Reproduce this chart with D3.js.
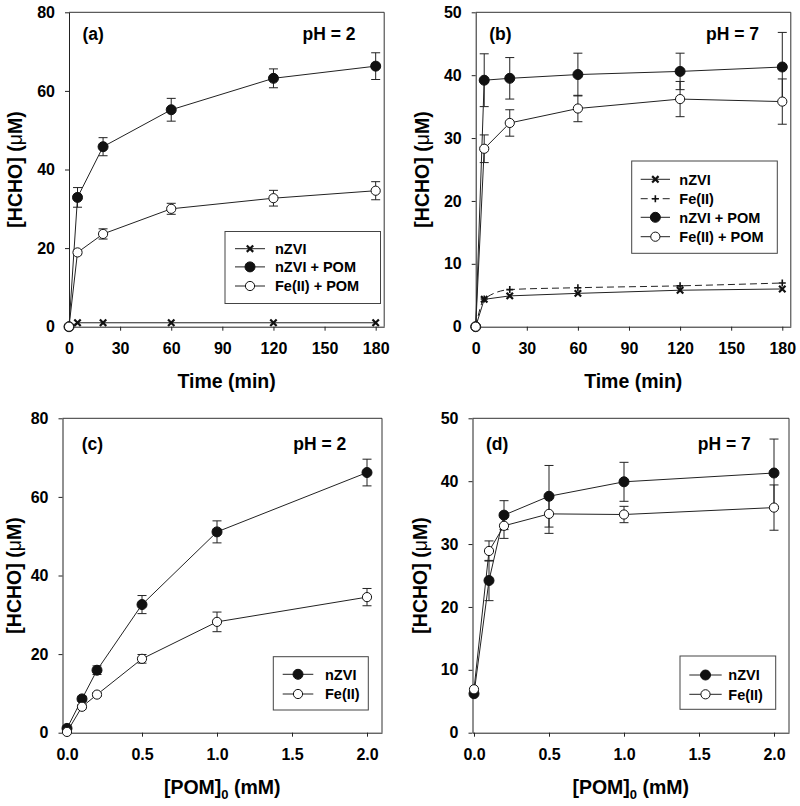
<!DOCTYPE html>
<html><head><meta charset="utf-8">
<script src="https://cdn.jsdelivr.net/npm/d3@7"></script>
<style>
body{margin:0;background:#fff;}
svg{display:block;font-family:"Liberation Sans",Arial,sans-serif;font-weight:bold;}
</style></head>
<body><svg id="c" width="800" height="806"></svg>
<script>
// ---------- data ----------
const timePts = [0, 5, 20, 60, 120, 180];
const pomPts = [0, 0.1, 0.2, 0.5, 1.0, 2.0];
const timeTicks = [0, 30, 60, 90, 120, 150, 180];
const pomTicks = [0, 0.5, 1.0, 1.5, 2.0];
const yTicks80 = [0, 20, 40, 60, 80];
const yTicks50 = [0, 10, 20, 30, 40, 50];

// (a) pH 2, time
const a_nZVI = [0, 1.0, 1.0, 1.0, 1.0, 1.0];
const a_nZVIPOM = [0, 32.9, 45.8, 55.2, 63.2, 66.3];
const a_nZVIPOM_err = [0, 2.5, 2.3, 2.9, 2.4, 3.4];
const a_FePOM = [0, 18.9, 23.6, 30.0, 32.7, 34.6];
const a_FePOM_err = [0, 0.6, 1.3, 1.4, 2.0, 2.3];

// (b) pH 7, time
const b_nZVI = [0, 4.35, 4.9, 5.3, 5.8, 6.0];
const b_Fe = [0, 4.4, 5.9, 6.2, 6.5, 6.95];
const b_nZVIPOM = [0, 39.2, 39.5, 40.1, 40.6, 41.3];
const b_nZVIPOM_err = [0, 4.2, 3.3, 3.4, 2.9, 5.5];
const b_FePOM = [0, 28.3, 32.4, 34.7, 36.2, 35.8];
const b_FePOM_err = [0, 2.2, 2.1, 2.1, 2.8, 3.6];

// (c) pH 2, POM dose
const c_nZVI = [1.1, 8.6, 15.9, 32.6, 51.1, 66.2];
const c_nZVI_err = [0, 0.5, 1.1, 2.3, 2.8, 3.4];
const c_Fe = [0.2, 6.6, 9.7, 18.8, 28.2, 34.5];
const c_Fe_err = [0, 0.5, 0.5, 1.1, 2.5, 2.2];

// (d) pH 7, POM dose
const d_nZVI = [6.2, 24.2, 34.6, 37.6, 39.9, 41.3];
const d_nZVI_err = [0, 3.2, 2.3, 4.9, 3.1, 5.4];
const d_Fe = [6.9, 28.9, 32.9, 34.8, 34.7, 35.8];
const d_Fe_err = [0, 1.6, 2.0, 3.1, 1.3, 3.6];

// ---------- drawing ----------
const svg = d3.select("#c");
const INK = "#111";

function zip(xs, ys, es){ return xs.map((x,i)=>({x, y:ys[i], e: es ? es[i] : 0})); }

function drawMarker(g, type, cx, cy){
  if(type==="filled"){
    g.append("circle").attr("cx",cx).attr("cy",cy).attr("r",5).attr("fill",INK).attr("stroke",INK).attr("stroke-width",1);
  } else if(type==="open"){
    g.append("circle").attr("cx",cx).attr("cy",cy).attr("r",4.6).attr("fill","#fff").attr("stroke",INK).attr("stroke-width",1);
  } else if(type==="x"){
    const s=3.2;
    g.append("path").attr("d",`M${cx-s},${cy-s}L${cx+s},${cy+s}M${cx-s},${cy+s}L${cx+s},${cy-s}`)
      .attr("stroke",INK).attr("stroke-width",2.2).attr("fill","none");
  } else if(type==="plus"){
    const s=3.5;
    g.append("path").attr("d",`M${cx-s},${cy}L${cx+s},${cy}M${cx},${cy-s}L${cx},${cy+s}`)
      .attr("stroke",INK).attr("stroke-width",1.6).attr("fill","none");
  }
}

function panel(cfg){
  const g = svg.append("g");
  const x = d3.scaleLinear().domain(cfg.xDomain).range(cfg.xRange);
  const y = d3.scaleLinear().domain(cfg.yDomain).range(cfg.yRange);
  const [x0,x1] = cfg.xRange, [y0,y1] = cfg.yRange;

  // frame (top/right)
  g.append("path").attr("d",`M${x0},${y1}H${x1}V${y0}`).attr("fill","none").attr("stroke","#333").attr("stroke-width",1);

  // axes
  const xa = g.append("g").attr("transform",`translate(0,${y0})`)
    .call(d3.axisBottom(x).tickValues(cfg.xTicks).tickFormat(cfg.xFormat).tickSize(4).tickSizeOuter(0));
  xa.selectAll("text").attr("y",27).attr("dy",null);
  const ya = g.append("g").attr("transform",`translate(${x0},0)`)
    .call(d3.axisLeft(y).tickValues(cfg.yTicks).tickSize(4).tickPadding(10).tickSizeOuter(0));
  [xa,ya].forEach(a=>{
    a.selectAll("text").attr("font-size",16).attr("font-family","Liberation Sans, Arial, sans-serif").attr("font-weight","bold").attr("fill","#000");
    a.selectAll("line").attr("stroke","#222");
    a.select(".domain").attr("stroke","#222");
  });

  // axis titles
  const xt = g.append("text").attr("x",(x0+x1)/2).attr("y",y0+61.6).attr("text-anchor","middle").attr("font-size",19.5);
  if(cfg.xTitle==="time"){ xt.text("Time (min)"); }
  else {
    xt.append("tspan").text("[POM]");
    xt.append("tspan").attr("font-size",13).attr("dy",5).text("0");
    xt.append("tspan").attr("dy",-5).text(" (mM)");
  }
  const yt = g.append("text").attr("transform",`translate(${cfg.yTitleX},${(y0+y1)/2}) rotate(-90)`)
    .attr("text-anchor","middle").attr("font-size",19.5);
  yt.append("tspan").text("[HCHO] (");
  yt.append("tspan").attr("font-weight","normal").text("μ");
  yt.append("tspan").text("M)");

  // panel label and pH
  g.append("text").attr("x",cfg.labelX).attr("y",y1+cfg.labelDy).attr("font-size",17.5).text(cfg.label);
  g.append("text").attr("x",cfg.phX).attr("y",y1+cfg.labelDy).attr("font-size",17.5).text(cfg.ph);

  // series: lines
  cfg.series.forEach(s=>{
    const line = d3.line().x(d=>x(d.x)).y(d=>y(d.y)).curve(s.curve || d3.curveLinear);
    g.append("path").datum(s.data).attr("d",line).attr("fill","none")
      .attr("stroke","#222").attr("stroke-width",1).attr("stroke-dasharray",s.dash||null);
  });
  // error bars
  cfg.series.forEach(s=>{
    s.data.filter(d=>d.e>0).forEach(d=>{
      const cx=x(d.x), ya_=y(d.y+d.e), yb=y(d.y-d.e);
      g.append("path").attr("d",`M${cx},${ya_}V${yb}M${cx-4.5},${ya_}H${cx+4.5}M${cx-4.5},${yb}H${cx+4.5}`)
        .attr("stroke","#222").attr("stroke-width",1).attr("fill","none");
    });
  });
  // markers
  cfg.series.forEach(s=>{
    s.data.forEach(d=>drawMarker(g, s.marker, x(d.x), y(d.y)));
  });

  // legend
  const L = cfg.legend;
  g.append("rect").attr("x",L.x).attr("y",L.y).attr("width",L.w).attr("height",L.h)
    .attr("fill","#fff").attr("stroke","#444").attr("stroke-width",1);
  L.items.forEach((it,i)=>{
    const yy = L.rowY[i];
    g.append("line").attr("x1",L.lx1).attr("x2",L.lx2).attr("y1",yy).attr("y2",yy)
      .attr("stroke","#222").attr("stroke-width",1).attr("stroke-dasharray",it.dash||null);
    drawMarker(g, it.marker, (L.lx1+L.lx2)/2, yy);
    g.append("text").attr("x",L.tx).attr("y",yy+5.2).attr("font-size",14.5).text(it.name);
  });
}

panel({
  xDomain:[0,185], xRange:[69,384.2], yDomain:[0,80], yRange:[326.7,12.3],
  xTicks: timeTicks, yTicks: yTicks80, xFormat: d3.format("d"), xTitle:"time",
  yTitleX: 22, label:"(a)", labelX:82.5, ph:"pH = 2", phX:302.5, labelDy:28,
  series:[
    {marker:"x", data: zip(timePts, a_nZVI)},
    {marker:"filled", data: zip(timePts, a_nZVIPOM, a_nZVIPOM_err)},
    {marker:"open", data: zip(timePts, a_FePOM, a_FePOM_err)}
  ],
  legend:{x:225,y:231.5,w:155.5,h:72, lx1:235, lx2:265, tx:275, rowY:[248.7,266.9,286],
    items:[{name:"nZVI",marker:"x"},{name:"nZVI + POM",marker:"filled"},{name:"Fe(II) + POM",marker:"open"}]}
});

panel({
  xDomain:[0,185], xRange:[475.7,790.8], yDomain:[0,50], yRange:[326.7,12.3],
  xTicks: timeTicks, yTicks: yTicks50, xFormat: d3.format("d"), xTitle:"time",
  yTitleX: 429, label:"(b)", labelX:489.3, ph:"pH = 7", phX:706, labelDy:28,
  series:[
    {marker:"x", data: zip(timePts, b_nZVI)},
    {marker:"plus", dash:"7,4", curve:d3.curveMonotoneX, data: zip(timePts, b_Fe)},
    {marker:"filled", data: zip(timePts, b_nZVIPOM, b_nZVIPOM_err)},
    {marker:"open", data: zip(timePts, b_FePOM, b_FePOM_err)}
  ],
  legend:{x:631.7,y:161,w:145.6,h:92.3, lx1:640.7, lx2:670, tx:679.3, rowY:[179.3,198.7,217.3,236.7],
    items:[{name:"nZVI",marker:"x"},{name:"Fe(II)",marker:"plus",dash:"7,4"},{name:"nZVI + POM",marker:"filled"},{name:"Fe(II) + POM",marker:"open"}]}
});

panel({
  xDomain:[-0.03,2.1], xRange:[62.5,382], yDomain:[0,80], yRange:[732.7,418.3],
  xTicks: pomTicks, yTicks: yTicks80, xFormat: d3.format(".1f"), xTitle:"pom",
  yTitleX: 20.7, label:"(c)", labelX:81.7, ph:"pH = 2", phX:293.3, labelDy:31.5,
  series:[
    {marker:"filled", data: zip(pomPts, c_nZVI, c_nZVI_err)},
    {marker:"open", data: zip(pomPts, c_Fe, c_Fe_err)}
  ],
  legend:{x:273.3,y:656.7,w:95,h:53.3, lx1:282.7, lx2:313.3, tx:325, rowY:[674.3,694],
    items:[{name:"nZVI",marker:"filled"},{name:"Fe(II)",marker:"open"}]}
});

panel({
  xDomain:[-0.01,2.1], xRange:[472.5,789], yDomain:[0,50], yRange:[732.7,418.3],
  xTicks: pomTicks, yTicks: yTicks50, xFormat: d3.format(".1f"), xTitle:"pom",
  yTitleX: 426.7, label:"(d)", labelX:486, ph:"pH = 7", phX:697.7, labelDy:31.5,
  series:[
    {marker:"filled", data: zip(pomPts, d_nZVI, d_nZVI_err)},
    {marker:"open", data: zip(pomPts, d_Fe, d_Fe_err)}
  ],
  legend:{x:680,y:656,w:95.7,h:53.3, lx1:689.3, lx2:721.7, tx:728.3, rowY:[675,694.3],
    items:[{name:"nZVI",marker:"filled"},{name:"Fe(II)",marker:"open"}]}
});
</script></body></html>
